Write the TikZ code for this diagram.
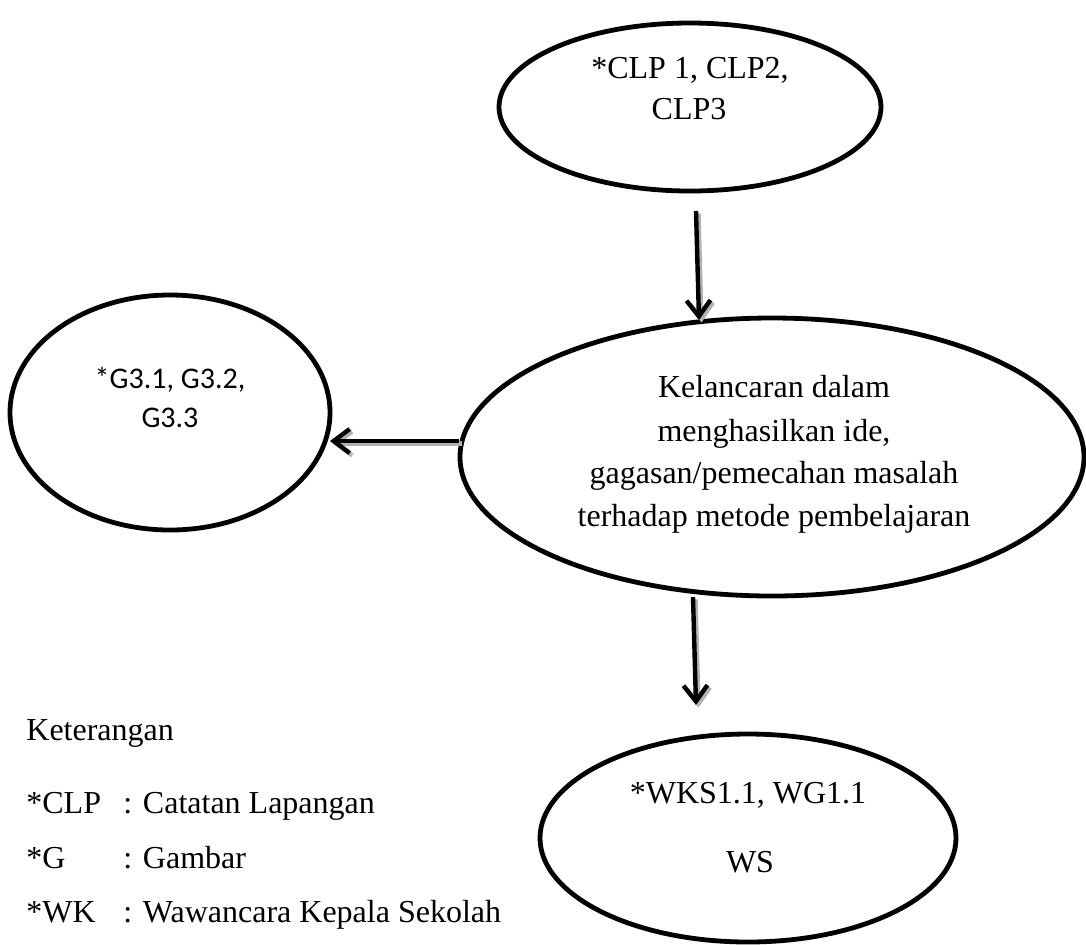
\documentclass[tikz,border=0pt]{standalone}
\usepackage{fontspec}
\setmainfont{Liberation Serif}
\newfontfamily\calfont{Carlito}
\usetikzlibrary{shapes.geometric,arrows.meta}
\begin{document}
\begin{tikzpicture}[x=0.5pt,y=-0.5pt,
  oval/.style={draw=black,line width=2.4pt,ellipse,inner sep=0pt,outer sep=0pt},
  lbl/.style={anchor=base,inner sep=0pt,font=\fontsize{16}{20}\selectfont},
  slbl/.style={anchor=base,inner sep=0pt,font=\calfont\fontsize{15}{19}\selectfont},
  legl/.style={anchor=base west,inner sep=0pt,font=\fontsize{16}{20}\selectfont},
  arr/.style={line width=2.2pt,-{Straight Barb[length=8pt,width=12pt]}},
  arrsh/.style={arr,draw=gray!60},
]
\useasboundingbox (0,0) rectangle (1086,944);

% ellipses
\node[oval,minimum width=191pt,minimum height=84pt] (top) at (690,107) {};
\node[oval,minimum width=312pt,minimum height=139pt] (mid) at (772,457) {};
\node[oval,minimum width=160pt,minimum height=117.5pt] (left) at (170,412.5) {};
\node[oval,minimum width=208pt,minimum height=104pt] (bot) at (748,838) {};

% texts
\node[lbl] (t1) at (690,78) {*CLP 1, CLP2,};
\node[lbl] (t2) at (689,119) {CLP3};
\node[lbl] (m1) at (774,397) {Kelancaran dalam};
\node[lbl] (m2) at (774,441) {menghasilkan ide,};
\node[lbl] (m3) at (774,483) {gagasan/pemecahan masalah};
\node[lbl] (m4) at (774,526) {terhadap metode pembelajaran};
\node[slbl] (l1) at (170,388) {*G3.1, G3.2,};
\node[slbl] (l2) at (170,427) {G3.3};
\node[lbl] (b1) at (748,803) {*WKS1.1, WG1.1};
\node[lbl] (b2) at (750,872) {WS};

% connectors
\coordinate (a1s) at (696,211);
\coordinate (a1e) at (699,320);
\coordinate (a2s) at (459,441);
\coordinate (a2e) at (330,441);
\coordinate (a3s) at (693,597);
\coordinate (a3e) at (696,705);
\foreach \s/\e in {a1s/a1e,a2s/a2e,a3s/a3e}{
  \draw[arrsh] ([shift={(2.5,2.5)}]\s) -- ([shift={(2.5,2.5)}]\e);
  \draw[arr] (\s) -- (\e);
}

% legend
\node[legl] (ket) at (26,740) {Keterangan};
\node[legl] (k1) at (26,813) {*CLP};
\node[legl] (d1) at (123,813) {: Catatan Lapangan};
\node[legl] (k2) at (26,868) {*G};
\node[legl] (d2) at (123,868) {: Gambar};
\node[legl] (k3) at (26,922) {*WK};
\node[legl] (d3) at (123,922) {: Wawancara Kepala Sekolah};
\end{tikzpicture}
\end{document}
